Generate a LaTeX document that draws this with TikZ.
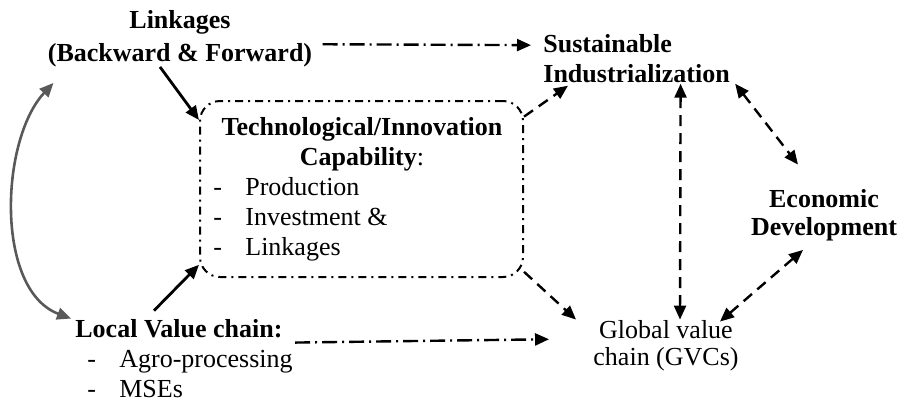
\documentclass[tikz,border=0pt]{standalone}
\usepackage{fontspec}
\setmainfont{Liberation Serif}
\usetikzlibrary{arrows.meta}

\newcommand{\itemdash}{\makebox[16pt][l]{-}}

\begin{document}
\begin{tikzpicture}[x=0.5pt,y=-0.5pt,
		txt/.style={inner sep=0pt,font=\fontsize{13}{15}\selectfont},
		bftxt/.style={inner sep=0pt,font=\bfseries\fontsize{13}{15}\selectfont},
		capbox/.style={draw,line width=1pt,rounded corners=10pt,minimum width=161.5pt,minimum height=88pt,
			dash pattern=on 4pt off 2.5pt on 1pt off 2.5pt},
		dashdotarrow/.style={line width=1.2pt,-{Triangle[length=7pt,width=6pt]},
			dash pattern=on 7.5pt off 2.5pt on 1pt off 2.5pt},
		dasharrow/.style={line width=1.2pt,-{Triangle[length=7pt,width=6pt]},dash pattern=on 5.5pt off 3.5pt},
		dashboth/.style={dasharrow,{Triangle[length=7pt,width=6pt]}-{Triangle[length=7pt,width=6pt]}},
		solidarrow/.style={line width=1.4pt,-{Triangle[length=7pt,width=6pt]}},
		looparrow/.style={line width=1.3pt,draw=black!65,
			{Triangle[length=7pt,width=6pt]}-{Triangle[length=7pt,width=6pt]}}]
		\useasboundingbox (0,0) rectangle (904,403);

		% boxes and labels (base = last line)
		\node[capbox] (cap) at (361.5,189) {};
		\node[bftxt,anchor=base,align=center,font=\bfseries\fontsize{13}{16.5}\selectfont] (link) at (180,61) {Linkages\\(Backward \& Forward)};
		\node[bftxt,anchor=base west,align=left] (sust) at (543,82) {Sustainable\\Industrialization};
		\node[bftxt,anchor=base,align=center,font=\bfseries\fontsize{13}{14}\selectfont] (econ) at (824,235) {Economic\\Development};
		\node[txt,anchor=base,align=center,font=\fontsize{13}{13.5}\selectfont] (gvc) at (666,365) {Global value\\chain (GVCs)};
		\node[bftxt,anchor=base,align=center] (captitle) at (362,165) {Technological/Innovation\\Capability{\mdseries:}};
		\node[txt,anchor=base west,align=left] (caplist) at (213,255) {\itemdash Production\\\itemdash Investment \&\\\itemdash Linkages};
		\node[txt,anchor=base west,align=left] (local) at (75,397) {{\bfseries Local Value chain:}\\\hspace*{6pt}\itemdash Agro-processing\\\hspace*{6pt}\itemdash MSEs};

		% connectors
		\draw[dashdotarrow] ([xshift=5pt,yshift=-3pt]link.east) -- ([xshift=-6pt,yshift=6.5pt]sust.west);
		\draw[solidarrow] ([xshift=-10pt]link.south) -- (cap.157);
		\draw[solidarrow] ([xshift=-15pt,yshift=4pt]local.north) -- (cap.205);
		\draw[looparrow] ([xshift=3pt,yshift=-8pt]link.south west) .. controls (0,140) and (-5,290) .. ([xshift=-2pt]local.north west);
		\draw[dashdotarrow] ([xshift=1pt,yshift=-12pt]local.north east) -- ([xshift=-22pt,yshift=3pt]gvc.west);
		\draw[dasharrow] (cap.24) -- ([xshift=12.5pt,yshift=-1.5pt]sust.south west);
		\draw[dasharrow] (cap.-27) -- ([xshift=-8.5pt]gvc.north west);
		\draw[dashboth] ([xshift=22pt,yshift=-0.5pt]sust.south) -- ([xshift=7pt]gvc.north);
		\draw[dashboth] ([xshift=2.5pt,yshift=-0.5pt]sust.south east) -- ([xshift=-13pt,yshift=12pt]econ.north);
		\draw[dashboth] ([xshift=-10.5pt,yshift=-4.5pt]econ.south) -- ([xshift=-9.5pt,yshift=-1pt]gvc.north east);
	\end{tikzpicture}
\end{document}
